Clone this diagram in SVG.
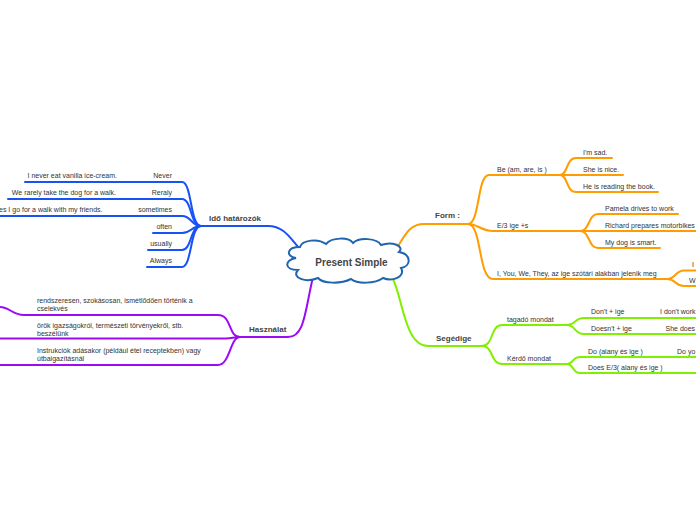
<svg xmlns="http://www.w3.org/2000/svg" width="696" height="520" viewBox="0 0 696 520">
<style>
.t{font-family:"Liberation Sans",Arial,sans-serif;font-size:7px;fill:#333}
.b{font-weight:bold;font-size:8px;fill:#444}
.e{text-anchor:end}
.c{fill:none;stroke-width:2;stroke-linecap:round;stroke-linejoin:round}
.bl{stroke:#1652f5}
.pu{stroke:#9d0bf5}
.or{stroke:#ff9c00}
.gr{stroke:#80f000}
</style>
<rect width="696" height="520" fill="#fff"/>
<g id="connectors">
<!-- blue -->
<path class="c bl" d="M 300 249 C 290 238 284 226 268 226 H 200"/>
<path class="c bl" d="M 25 182 H 182 C 192 182 190 226 201 226"/>
<path class="c bl" d="M 8 199 H 182 C 192 199 190 226 201 226"/>
<path class="c bl" d="M 0 216 H 182 C 192 216 191 226 201 226"/>
<path class="c bl" d="M 153 233 H 182 C 192 233 191 226 201 226"/>
<path class="c bl" d="M 148 250 H 182 C 192 250 190 226 201 226"/>
<path class="c bl" d="M 147 267 H 182 C 192 267 190 226 201 226"/>
<!-- purple -->
<path class="c pu" d="M 313 277 C 305 310 305 337 288 337 H 240"/>
<path class="c pu" d="M 240 337 C 228 337 232 315 218 315 H 24 C 12 315 10 307 0 307"/>
<path class="c pu" d="M 0 338.5 H 226 C 232 338.5 234 337 240 337"/>
<path class="c pu" d="M 0 365 H 218 C 230 365 230 337 240 337"/>
<!-- orange -->
<path class="c or" d="M 395 251 C 404 238 408 224 424 224 H 468"/>
<path class="c or" d="M 468 224 C 480 224 477 175 489 175 H 560"/>
<path class="c or" d="M 560 175 C 568 175 566 158 576 158 H 612"/>
<path class="c or" d="M 560 175 H 623"/>
<path class="c or" d="M 560 175 C 568 175 566 192 576 192 H 658"/>
<path class="c or" d="M 468 224 C 478 224 481 231 493 231 H 580"/>
<path class="c or" d="M 580 231 C 590 231 588 214 598 214 H 678"/>
<path class="c or" d="M 580 231 H 696"/>
<path class="c or" d="M 580 231 C 590 231 588 248 598 248 H 660"/>
<path class="c or" d="M 468 224 C 482 224 478 279 493 279 H 667"/>
<path class="c or" d="M 667 279 C 676 279 675 270.5 684 270.5 H 696"/>
<path class="c or" d="M 667 279 C 676 279 675 286 684 286 H 696"/>
<!-- green -->
<path class="c gr" d="M 393 279 C 403 300 405 346 428 346 H 482"/>
<path class="c gr" d="M 482 346 C 494 346 490 325 502 325 H 567"/>
<path class="c gr" d="M 567 325 C 576 325 574 318 584 318 H 696"/>
<path class="c gr" d="M 567 325 C 576 325 574 334 584 334 H 696"/>
<path class="c gr" d="M 482 346 C 494 346 490 364 502 364 H 567"/>
<path class="c gr" d="M 567 364 C 574 364 572 357 580 357 H 696"/>
<path class="c gr" d="M 567 364 C 574 364 572 373 580 373 H 696"/>
</g>
<g id="center">
<path d="M 296 258 C 285 256 287 247 300 247 C 302 240 318 238 326 244 C 332 237 349 237 353 243 C 359 237 377 238 381 245 C 392 241 405 246 399 252 C 411 254 412 266 401 268 C 406 277 392 282 383 278 C 375 284 357 284 351 279 C 341 284 323 284 318 278 C 306 283 291 278 298 270 C 284 270 284 260 296 258 Z" fill="#fff" stroke="#1f65b0" stroke-width="2"/>
<text class="t" x="351.5" y="266" text-anchor="middle" style="font-size:10px;font-weight:bold;fill:#444">Present Simple</text>
</g>
<g id="ido"><text class="t b" x="209" y="221">Idő határozók</text></g>
<g id="never"><text class="t e" x="172" y="178">Never</text></g>
<g id="never-ex"><text class="t e" x="117" y="178">I never eat vanilla ice-cream.</text></g>
<g id="reraly"><text class="t e" x="172" y="195">Reraly</text></g>
<g id="reraly-ex"><text class="t e" x="116" y="195">We rarely take the dog for a walk.</text></g>
<g id="sometimes"><text class="t e" x="172" y="212">sometimes</text></g>
<g id="sometimes-ex"><text class="t e" x="102.5" y="212">es I go for a walk with my friends.</text></g>
<g id="often"><text class="t e" x="172" y="229">often</text></g>
<g id="usually"><text class="t e" x="172" y="246">usually</text></g>
<g id="always"><text class="t e" x="172" y="263">Always</text></g>
<g id="hasznalat"><text class="t b" x="249" y="332">Használat</text></g>
<g id="h1"><text class="t" x="37" y="303">rendszeresen, szokásosan, ismétlődően történik a</text><text class="t" x="37" y="311">cselekvés</text></g>
<g id="h2"><text class="t" x="37" y="328">örök igazságokról, természeti törvényekről, stb.</text><text class="t" x="37" y="336">beszélünk</text></g>
<g id="h3"><text class="t" x="37" y="353">Instrukciók adásakor (például étel receptekben) vagy</text><text class="t" x="37" y="361">útbaigazításnál</text></g>
<g id="form"><text class="t b" x="435" y="218">Form :</text></g>
<g id="be"><text class="t" x="497" y="172">Be (am, are, is )</text></g>
<g id="be1"><text class="t" x="583" y="155">I'm sad.</text></g>
<g id="be2"><text class="t" x="583" y="172">She is nice.</text></g>
<g id="be3"><text class="t" x="583" y="189">He is reading the book.</text></g>
<g id="e3"><text class="t" x="497" y="228">E/3 ige +s</text></g>
<g id="e31"><text class="t" x="605" y="211">Pamela drives to work</text></g>
<g id="e32"><text class="t" x="605" y="228">Richard prepares motorbikes</text></g>
<g id="e33"><text class="t" x="605" y="245">My dog is smart.</text></g>
<g id="iyou"><text class="t" x="497" y="276">I, You, We, They, az ige szótári alakban jelenik meg</text></g>
<g id="iyou1"><text class="t" x="692" y="267">I</text></g>
<g id="iyou2"><text class="t" x="689" y="283">W</text></g>
<g id="segedige"><text class="t b" x="436" y="341">Segédige</text></g>
<g id="tagado"><text class="t" x="507" y="322">tagadó mondat</text></g>
<g id="dont"><text class="t" x="591" y="314">Don't + ige</text></g>
<g id="dont-ex"><text class="t" x="660" y="314">I don't work</text></g>
<g id="doesnt"><text class="t" x="591" y="331">Doesn't + ige</text></g>
<g id="doesnt-ex"><text class="t" x="665.5" y="331">She does</text></g>
<g id="kerdo"><text class="t" x="507" y="361">Kérdő mondat</text></g>
<g id="do"><text class="t" x="588" y="353.5">Do (alany és ige )</text></g>
<g id="do-ex"><text class="t" x="677" y="353.5">Do yo</text></g>
<g id="does"><text class="t" x="588" y="370">Does E/3( alany és ige )</text></g>
</svg>
